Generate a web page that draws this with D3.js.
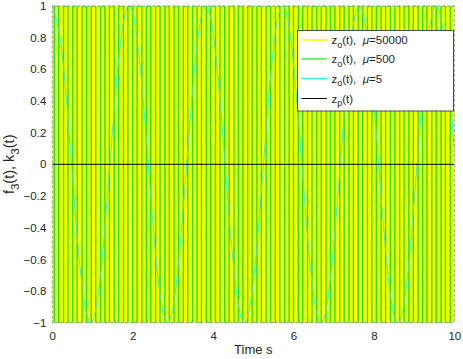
<!DOCTYPE html>
<html><head><meta charset="utf-8">
<script src="https://cdn.jsdelivr.net/npm/d3@7"></script>
<style>body{margin:0;background:#fff}svg{display:block;font-family:"Liberation Sans",Arial,Helvetica,sans-serif}</style>
</head><body>
<script>
// ---- data ----
const xTicks = [0, 2, 4, 6, 8, 10];
const yTicks = [-1, -0.8, -0.6, -0.4, -0.2, 0, 0.2, 0.4, 0.6, 0.8, 1];
// mu = 50000: oscillation too dense to resolve, fills the band between its envelopes
const yellowT = [0, 10];
const yellowHi = [1, 1];
const yellowLo = [-1, -1];
// mu = 500: switching instants (vertical strokes)
const greenT = [0, 0.05, 0.16, 0.28, 0.39, 0.51, 0.62, 0.74, 0.85, 0.97, 1.08, 1.20, 1.31, 1.42, 1.54, 1.65, 1.77, 1.88, 2.00, 2.11, 2.23, 2.34, 2.45, 2.57, 2.68, 2.80, 2.91, 3.03, 3.14, 3.26, 3.37, 3.49, 3.60, 3.71, 3.83, 3.94, 4.06, 4.17, 4.29, 4.40, 4.52, 4.63, 4.74, 4.86, 4.97, 5.09, 5.20, 5.32, 5.43, 5.55, 5.66, 5.78, 5.89, 6.00, 6.12, 6.23, 6.35, 6.46, 6.58, 6.69, 6.81, 6.92, 7.03, 7.15, 7.26, 7.38, 7.49, 7.61, 7.72, 7.84, 7.95, 8.06, 8.18, 8.29, 8.41, 8.52, 8.64, 8.75, 8.87, 8.98, 9.10, 9.21, 9.32, 9.44, 9.55, 9.67, 9.78, 9.90, 10];
const greenV = [-1, 1, -1, 1, -1, 1, -1, 1, -1, 1, -1, 1, -1, 1, -1, 1, -1, 1, -1, 1, -1, 1, -1, 1, -1, 1, -1, 1, -1, 1, -1, 1, -1, 1, -1, 1, -1, 1, -1, 1, -1, 1, -1, 1, -1, 1, -1, 1, -1, 1, -1, 1, -1, 1, -1, 1, -1, 1, -1, 1, -1, 1, -1, 1, -1, 1, -1, 1, -1, 1, -1, 1, -1, 1, -1, 1, -1, 1, -1, 1, -1, 1, -1, 1, -1, 1, -1, 1, 1];
// mu = 5: slow oscillation
const cyanT = [0, 0.239, 0.478, 0.716, 0.955, 1.194, 1.433, 1.671, 1.910, 2.149, 2.388, 2.626, 2.865, 3.104, 3.343, 3.581, 3.820, 4.059, 4.298, 4.536, 4.775, 5.014, 5.253, 5.491, 5.730, 5.969, 6.208, 6.446, 6.685, 6.924, 7.163, 7.401, 7.640, 7.879, 8.118, 8.356, 8.595, 8.834, 9.073, 9.311, 9.550, 9.789, 10];
const cyanV = [1, 0.71, 0, -0.71, -1, -0.71, 0, 0.71, 1, 0.71, 0, -0.71, -1, -0.71, 0, 0.71, 1, 0.71, 0, -0.71, -1, -0.71, 0, 0.71, 1, 0.71, 0, -0.71, -1, -0.71, 0, 0.71, 1, 0.71, 0, -0.71, -1, -0.71, 0, 0.71, 1, 0.71, 0.09];
const blackT = [0, 10];
const blackV = [0, 0];
const legendMu = ["50000", "500", "5", null];
const legendColors = ["#ffff00", "#44ea44", "#44eaea", "#000000"];

// ---- layout ----
const W = 463, H = 359;
const L = 52.3, R = 454.3, T = 5.9, B = 322.7;
const x = d3.scaleLinear().domain([0, 10]).range([L, R]);
const y = d3.scaleLinear().domain([-1, 1]).range([B, T]);

const svg = d3.select("body").append("svg").attr("width", W).attr("height", H);
svg.append("defs").append("clipPath").attr("id", "clip")
  .append("rect").attr("x", L).attr("y", T).attr("width", R - L).attr("height", B - T);

svg.append("rect").attr("x", L).attr("y", T).attr("width", R - L).attr("height", B - T).attr("fill", "#fff");

const g = svg.append("g").attr("clip-path", "url(#clip)");

// yellow band
const yellowData = yellowT.map((t, i) => ({t, hi: yellowHi[i], lo: yellowLo[i]}));
g.append("path").datum(yellowData)
  .attr("d", d3.area().x(d => x(d.t)).y0(d => y(d.lo)).y1(d => y(d.hi)))
  .attr("fill", "#ffff00");

// green
const greenData = greenT.map((t, i) => ({t, v: greenV[i]}));
g.append("path").datum(greenData)
  .attr("d", d3.line().x(d => x(d.t)).y(d => y(d.v)).curve(d3.curveStepAfter))
  .attr("fill", "none").attr("stroke", "#22e422").attr("stroke-width", 1.45);

// cyan
const cyanData = cyanT.map((t, i) => ({t, v: cyanV[i]}));
g.append("path").datum(cyanData)
  .attr("d", d3.line().x(d => x(d.t)).y(d => y(d.v)).curve(d3.curveNatural))
  .attr("fill", "none").attr("stroke", "#33e6e6").attr("stroke-width", 0.9);

// black
const blackData = blackT.map((t, i) => ({t, v: blackV[i]}));
g.append("path").datum(blackData)
  .attr("d", d3.line().x(d => x(d.t)).y(d => y(d.v)))
  .attr("fill", "none").attr("stroke", "#000").attr("stroke-width", 1);

// frame
svg.append("rect").attr("x", L).attr("y", T).attr("width", R - L).attr("height", B - T)
  .attr("fill", "none").attr("stroke", "#9a9a9a").attr("stroke-width", 1)
  .attr("stroke-dasharray", "3,2");

// axes (labels only; ticks hidden beneath data)
const xAxis = svg.append("g").attr("transform", `translate(0,${B})`)
  .call(d3.axisBottom(x).tickValues(xTicks).tickSize(0).tickPadding(9).tickFormat(d3.format("d")));
const yAxis = svg.append("g").attr("transform", `translate(${L},0)`)
  .call(d3.axisLeft(y).tickValues(yTicks).tickSize(0).tickPadding(6).tickFormat(d => d === 0 ? "0" : d3.format("")(+d.toFixed(1))));
[xAxis, yAxis].forEach(a => {
  a.select(".domain").remove();
  a.selectAll("text").attr("font-size", 11.5).attr("fill", "#262626")
    .attr("font-family", '"Liberation Sans",Arial,sans-serif');
});

// axis titles
svg.append("text").attr("x", (L + R) / 2).attr("y", 354).attr("text-anchor", "middle")
  .attr("font-size", 13).attr("fill", "#262626").text("Time s");

const yl = svg.append("text").attr("transform", `translate(14,${(T + B) / 2}) rotate(-90)`)
  .attr("text-anchor", "middle").attr("font-size", 14.5).attr("fill", "#262626");
yl.append("tspan").text("f");
yl.append("tspan").attr("dy", 4.5).attr("font-size", 11.5).text("3");
yl.append("tspan").attr("dy", -4.5).text("(t), k");
yl.append("tspan").attr("dy", 4.5).attr("font-size", 11.5).text("3");
yl.append("tspan").attr("dy", -4.5).text("(t)");

// legend
const lg = svg.append("g");
lg.append("rect").attr("x", 297.5).attr("y", 30.5).attr("width", 156).attr("height", 80.5)
  .attr("fill", "#fff").attr("stroke", "#262626").attr("stroke-width", 0.8);
const rowY = [40, 59, 78.5, 98.5];
legendMu.forEach((mu, i) => {
  lg.append("line").attr("x1", 301.5).attr("x2", 327)
    .attr("y1", rowY[i]).attr("y2", rowY[i])
    .attr("stroke", legendColors[i]).attr("stroke-width", mu === null ? 1 : 1.5);
  const t = lg.append("text").attr("x", 331.5).attr("y", rowY[i] + 4)
    .attr("font-size", 11.5).attr("fill", "#262626");
  t.append("tspan").text("z");
  t.append("tspan").attr("dy", 3.5).attr("font-size", 9).text(mu === null ? "p" : "o");
  if (mu === null) {
    t.append("tspan").attr("dy", -3.5).text("(t)");
  } else {
    t.append("tspan").attr("dy", -3.5).text("(t),\u00a0\u00a0");
    t.append("tspan").attr("font-style", "italic").text("\u03bc");
    t.append("tspan").text("=" + mu);
  }
});
</script>
</body></html>
